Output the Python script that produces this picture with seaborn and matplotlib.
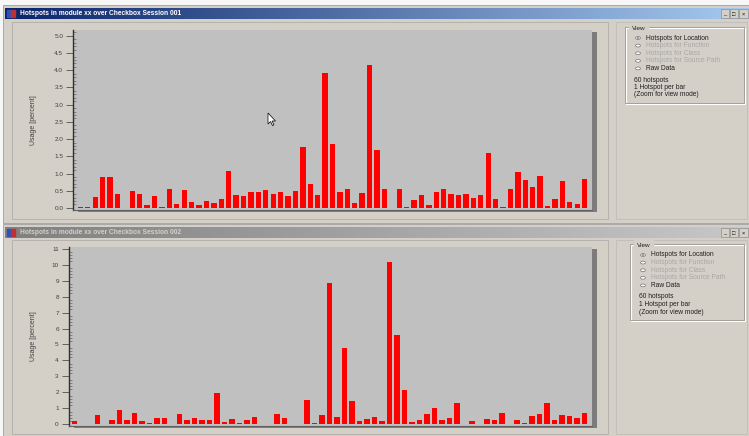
import numpy as np
import pandas as pd
import matplotlib
matplotlib.use("Agg")
import matplotlib.pyplot as plt
import seaborn as sns
from matplotlib.patches import Rectangle, Polygon, Circle
from matplotlib.colors import LinearSegmentedColormap
from matplotlib.ticker import MultipleLocator, FormatStrFormatter

# ---- data -------------------------------------------------------------
session1_usage = [0.03, 0.03, 0.33, 0.91, 0.90, 0.41, 0.00, 0.49, 0.41, 0.09,
                  0.36, 0.02, 0.54, 0.11, 0.52, 0.18, 0.09, 0.21, 0.15, 0.26,
                  1.08, 0.38, 0.36, 0.47, 0.45, 0.52, 0.41, 0.45, 0.36, 0.49,
                  1.78, 0.69, 0.38, 3.92, 1.85, 0.45, 0.54, 0.15, 0.43, 4.15,
                  1.67, 0.54, 0.00, 0.54, 0.02, 0.23, 0.39, 0.09, 0.46, 0.55,
                  0.40, 0.38, 0.41, 0.28, 0.38, 1.61, 0.26, 0.04, 0.54, 1.05,
                  0.81, 0.60, 0.93, 0.06, 0.26, 0.79, 0.17, 0.12, 0.84]

session2_usage = [0.23, 0.00, 0.00, 0.58, 0.00, 0.27, 0.89, 0.27, 0.71, 0.21,
                  0.08, 0.37, 0.37, 0.00, 0.64, 0.27, 0.41, 0.27, 0.27, 1.98,
                  0.17, 0.35, 0.08, 0.27, 0.44, 0.00, 0.00, 0.62, 0.41, 0.03,
                  0.00, 1.52, 0.10, 0.58, 8.83, 0.44, 4.81, 1.48, 0.23, 0.35,
                  0.44, 0.21, 10.14, 5.60, 2.14, 0.12, 0.27, 0.62, 1.00, 0.30,
                  0.41, 1.31, 0.00, 0.23, 0.00, 0.35, 0.25, 0.69, 0.00, 0.27,
                  0.10, 0.54, 0.62, 1.35, 0.29, 0.58, 0.52, 0.41, 0.69]

window_titles = ["Hotspots in module xx over Checkbox Session 001",
                 "Hotspots in module xx over Checkbox Session 002"]
view_options = ["Hotspots for Location", "Hotspots for Function",
                "Hotspots for Class", "Hotspots for Source Path", "Raw Data"]
info_lines = ["60 hotspots", "1 Hotspot per bar", "(Zoom for view mode)"]
y_label = "Usage [percent]"

# ---- figure helpers (pixel coordinates, origin top-left) --------------
W, H = 749, 436
fig = plt.figure(figsize=(W / 100, H / 100), dpi=100)
fig.patch.set_facecolor("#f7f7f7")
FONT = ["Liberation Sans", "DejaVu Sans"]
FACE = "#d4d0c8"


def px_rect(x, y, w, h):
    return [x / W, 1 - (y + h) / H, w / W, h / H]


def box(x, y, w, h, fc="none", ec="none", lw=0.8, z=-10):
    fig.patches.append(Rectangle((x / W, 1 - (y + h) / H), w / W, h / H,
                                 transform=fig.transFigure, facecolor=fc,
                                 edgecolor=ec, linewidth=lw, zorder=z))


def ftext(x, y, s, **kw):
    kw.setdefault("fontsize", 4.6)
    kw.setdefault("color", "#202020")
    kw.setdefault("va", "center")
    fig.text(x / W, 1 - y / H, s, family=FONT, **kw)


def title_bar(y, c0, c1, title, tcolor):
    a = fig.add_axes(px_rect(5, y, 744, 11))
    cmap = LinearSegmentedColormap.from_list("tb", [c0, c1])
    a.imshow(np.linspace(0, 1, 256)[None, :], aspect="auto", cmap=cmap,
             extent=[0, 1, 0, 1])
    a.set_axis_off()
    # window icon
    a.add_patch(Rectangle((0.003, 0.15), 0.005, 0.7, color="#3050c0",
                          transform=a.transAxes))
    a.add_patch(Rectangle((0.008, 0.15), 0.005, 0.7, color="#c03030",
                          transform=a.transAxes))
    a.text(0.02, 0.5, title, transform=a.transAxes, color=tcolor,
           fontsize=4.8, fontweight="bold", va="center", family=FONT)
    # caption buttons
    for k, sym in enumerate(["_", "□", "×"]):
        bx = 0.962 + k * 0.0125
        a.add_patch(Rectangle((bx, 0.12), 0.011, 0.76, facecolor=FACE,
                              edgecolor="#808080", linewidth=0.4,
                              transform=a.transAxes))
        a.text(bx + 0.0055, 0.45, sym, transform=a.transAxes, fontsize=4,
               ha="center", va="center", color="#000000", family=FONT)


def view_panel(gx, gy, gw, gh):
    box(gx, gy, gw, gh, ec="#ffffff", lw=0.8, z=-5)
    box(gx - 1, gy - 1, gw, gh, ec="#9a9890", lw=0.6, z=-4)
    ftext(gx + 6, gy, "View", backgroundcolor=FACE, fontsize=4.6)
    for k, lab in enumerate(view_options):
        yy = gy + 10 + k * 7.6
        fig.patches.append(Circle(((gx + 12) / W, 1 - yy / H), 2.4 / W,
                                  transform=fig.transFigure, facecolor="#ffffff",
                                  edgecolor="#707070", linewidth=0.5, zorder=2))
        if k == 0:
            fig.patches.append(Circle(((gx + 12) / W, 1 - yy / H), 0.9 / W,
                                      transform=fig.transFigure,
                                      facecolor="#000000", zorder=3))
        col = "#202020" if k in (0, 4) else "#a8a8a8"
        ftext(gx + 20, yy, lab, color=col, fontsize=4.8)
    for k, lab in enumerate(info_lines):
        ftext(gx + 8, gy + 52 + k * 7.5, lab, fontsize=4.8)


def chart(ax_px, values, ylim, xlim, major, minor, fmt, label_x):
    x, y, w, h = ax_px
    # drop shadow of the plot panel (mostly on the right)
    box(x + 5, y + 2, w, h, fc="#7c7c7c", z=-1)
    ax = fig.add_axes(px_rect(x, y, w, h))
    df = pd.DataFrame({"bar": range(len(values)), "usage": values})
    sns.barplot(data=df, x="bar", y="usage", color="#ff0000", saturation=1,
                width=0.72, linewidth=0, ax=ax)
    ax.set_facecolor("#c0c0c0")
    ax.set_xlim(*xlim)
    ax.set_ylim(*ylim)
    ax.set_xticks([])
    ax.set_xlabel("")
    ax.set_ylabel(y_label, fontsize=5, color="#404040", family=FONT)
    ax.yaxis.set_label_coords(label_x, 0.5)
    ax.yaxis.set_major_locator(MultipleLocator(major))
    ax.yaxis.set_minor_locator(MultipleLocator(minor))
    ax.yaxis.set_major_formatter(FormatStrFormatter(fmt))
    ax.tick_params(axis="y", which="major", direction="out", length=5,
                   width=0.6, color="#505050", labelsize=4.6,
                   labelcolor="#404040", pad=2)
    ax.tick_params(axis="y", which="minor", direction="in", length=2.5,
                   width=0.4, color="#505050")
    for t in ax.get_yticklabels():
        t.set_family(FONT)
    for s in ("top", "right"):
        ax.spines[s].set_visible(False)
    ax.spines["left"].set_color("#303030")
    ax.spines["left"].set_linewidth(1.0)
    ax.spines["bottom"].set_color("#606060")
    ax.spines["bottom"].set_linewidth(0.8)
    return ax


# ---- upper window -----------------------------------------------------
box(3, 5, 746, 218, fc=FACE, ec="#a0a0a0", lw=0.6)
title_bar(8, "#0a246a", "#a6caf0", window_titles[0], "#ffffff")
box(12, 22, 596, 197, ec="#b0aea8", lw=0.6, z=-6)
box(616, 22, 131, 197, ec="#bcbab4", lw=0.5, z=-6)
view_panel(626, 28, 119, 76)
chart((73, 30, 519, 180), session1_usage, (-0.06, 5.17), (-1.0, 69.0),
      0.5, 0.1, "%.1f", -0.07)

# mouse pointer resting over the upper plot
fig.patches.append(Polygon(np.array([[268, 113], [268, 124], [270.5, 121.5],
                                     [272.5, 125.5], [274, 124.8], [272, 121],
                                     [275.5, 121]]) / [W, H] * [1, -1] + [0, 1],
                           closed=True, transform=fig.transFigure,
                           facecolor="#ffffff", edgecolor="#000000",
                           linewidth=0.5, zorder=5))

# ---- lower window -----------------------------------------------------
box(3, 224, 746, 214, fc=FACE, ec="#a0a0a0", lw=0.6)
title_bar(227, "#808080", "#c8c8c8", window_titles[1], "#d4d0c8")
box(12, 240, 596, 194, ec="#b0aea8", lw=0.6, z=-6)
box(616, 240, 131, 194, ec="#bcbab4", lw=0.5, z=-6)
view_panel(631, 245, 114, 76)
chart((68.5, 247, 523, 179), session2_usage, (-0.1, 11.1), (-0.83, 68.96),
      1, 0.2, "%d", -0.06)

fig.savefig("out.png", dpi=100, facecolor=fig.get_facecolor())
